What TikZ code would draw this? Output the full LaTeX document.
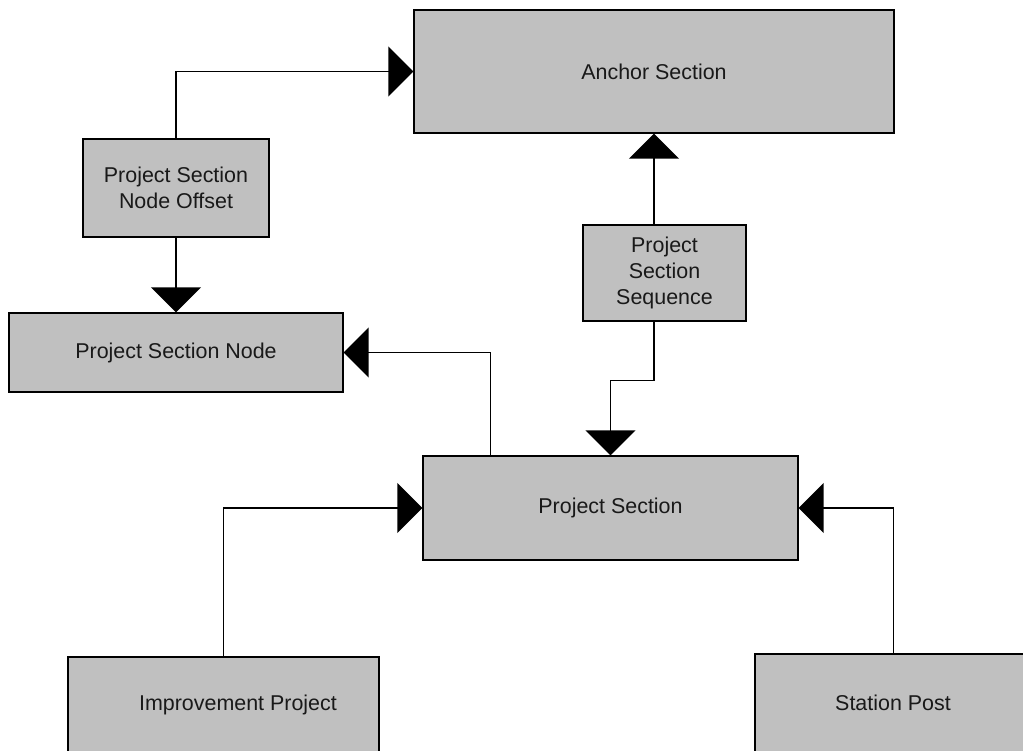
\documentclass[tikz,border=0pt]{standalone}
\usepackage{fontspec}
\setmainfont{Liberation Sans}
\usetikzlibrary{arrows.meta}
\definecolor{boxgray}{HTML}{C0C0C0}
\tikzset{
  box/.style={draw=black, line width=0.8pt, fill=boxgray, inner sep=2pt, align=center,
    font=\fontsize{12.2}{14.8}\selectfont, text=black!90},
  arr/.style={draw=black, line width=0.8pt, -{Triangle[length=14.2pt,width=28.4pt]}}
}
\begin{document}
\begin{tikzpicture}[x=0.02cm, y=-0.02cm]
\useasboundingbox (0,0) rectangle (1023,750);
\node[box, minimum width=9.6cm, minimum height=2.46cm] (anchor) at (654,71.5) {Anchor Section};
\node[box, minimum width=3.72cm, minimum height=1.96cm] (offset) at (176,188) {Project Section\\Node Offset};
\node[box, minimum width=6.68cm, minimum height=1.58cm] (psn) at (176,352.5) {Project Section Node};
\node[box, minimum width=3.26cm, minimum height=1.92cm] (seq) at (664.5,273) {Project\\Section\\Sequence};
\node[box, minimum width=7.5cm, minimum height=2.08cm] (ps) at (610.5,508) {Project Section};
\node[box, minimum width=6.22cm, minimum height=1.92cm] (imp) at (223.5,705) {\hspace{0.58cm}Improvement Project};
\node[box, minimum width=6cm, minimum height=1.96cm] (st) at (905,703) {Station Post\hspace{0.48cm}};
\path (ps.north west) ++(68,0) coordinate (psup);
\path (st.north west) ++(139,0) coordinate (stup);

\draw[arr] (offset.north) |- (anchor.west);
\draw[arr] (offset.south) -- (psn.north);
\draw[arr] (psup) |- (psn.east);
\draw[arr] (seq.north -| anchor.south) -- (anchor.south);
\draw[arr] (seq.south -| anchor.south) -- ++(0,59) -| (ps.north);
\draw[arr] (imp.north) |- (ps.west);
\draw[arr] (stup) |- (ps.east);
\end{tikzpicture}
\end{document}
